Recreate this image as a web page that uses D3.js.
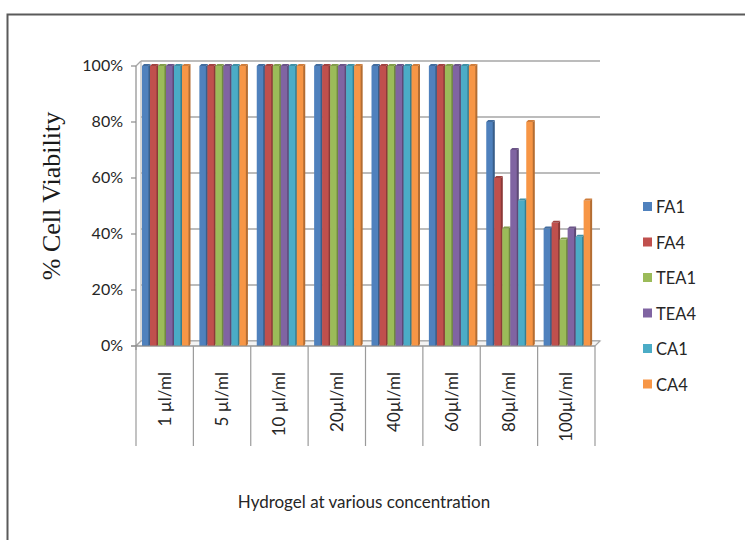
<!DOCTYPE html>
<html lang="en">
<head>
  <meta charset="UTF-8">
  <title>Cell viability</title>
  <style>
    body { margin: 0; background: #ffffff; }
    svg { display: block; background-color: #ffffff; }
    .tick-label { font-family: Lato, "Open Sans", sans-serif; font-size: 16px; fill: #262626; }
    .cat-label { font-family: Lato, "Open Sans", sans-serif; font-size: 17px; fill: #262626; }
    .legend-label { font-family: Lato, "Open Sans", sans-serif; font-size: 16.5px; fill: #262626; }
  </style>
  <script type="text/javascript" src="https://d3js.org/d3.v7.min.js"></script>
</head>
<body>
<script type="text/javascript">

  var categories = ["1 µl/ml", "5 µl/ml", "10 µl/ml", "20µl/ml", "40µl/ml", "60µl/ml", "80µl/ml", "100µl/ml"];
  var seriesNames = ["FA1", "FA4", "TEA1", "TEA4", "CA1", "CA4"];
  var FA1  = [100, 100, 100, 100, 100, 100, 80, 42];
  var FA4  = [100, 100, 100, 100, 100, 100, 60, 44];
  var TEA1 = [100, 100, 100, 100, 100, 100, 42, 38];
  var TEA4 = [100, 100, 100, 100, 100, 100, 70, 42];
  var CA1  = [100, 100, 100, 100, 100, 100, 52, 39];
  var CA4  = [100, 100, 100, 100, 100, 100, 80, 52];
  var yTicks = [0, 20, 40, 60, 80, 100];
  var colors = ["#4f81bd", "#c0504d", "#9bbb59", "#8064a2", "#4bacc6", "#f79646"];

  var seriesValues = [FA1, FA4, TEA1, TEA4, CA1, CA4];

  var width = 745, height = 540;
  var depth = 5;   // fake 3d offset of the back wall

  var svg = d3.select("body")
    .append("svg")
    .attr("width", width)
    .attr("height", height);

  // outer frame (right and bottom edges fall outside the picture)
  svg.append("rect")
    .attr("x", 7.5)
    .attr("y", 14.5)
    .attr("width", 800)
    .attr("height", 600)
    .attr("fill", "none")
    .attr("stroke", "#5a5a5a")
    .attr("stroke-width", 2);

  var x0 = d3.scaleBand()
    .domain(categories)
    .range([136, 595]);

  var x1 = d3.scaleBand()
    .domain(seriesNames)
    .range([6, 54]);

  var y = d3.scaleLinear()
    .domain([0, 100])
    .range([346, 66]);

  var plot = svg.append("g").attr("id", "plot-area");

  // back wall gridlines
  plot.selectAll("line.grid")
    .data(yTicks)
    .enter()
    .append("line")
    .attr("class", "grid")
    .attr("x1", 136 + depth)
    .attr("x2", 595 + depth)
    .attr("y1", function(d) { return y(d) - depth; })
    .attr("y2", function(d) { return y(d) - depth; })
    .attr("stroke", "#a6a6a6")
    .attr("stroke-width", 1.6);

  // left wall edge and the little diagonals to the front axis
  plot.append("line")
    .attr("x1", 136 + depth).attr("x2", 136 + depth)
    .attr("y1", y(0) - depth).attr("y2", y(100) - depth)
    .attr("stroke", "#b0b0b0").attr("stroke-width", 1);

  plot.selectAll("line.diag")
    .data([0, 100])
    .enter()
    .append("line")
    .attr("class", "diag")
    .attr("x1", 136).attr("x2", 136 + depth)
    .attr("y1", function(d) { return y(d); })
    .attr("y2", function(d) { return y(d) - depth; })
    .attr("stroke", "#a6a6a6").attr("stroke-width", 1.2);

  // floor
  plot.append("polygon")
    .attr("points", [[136, y(0)], [595, y(0)], [595 + depth, y(0) - depth], [136 + depth, y(0) - depth]].join(" "))
    .attr("fill", "#f4f4f4")
    .attr("stroke", "#a6a6a6")
    .attr("stroke-width", 1.2);

  // bars
  var bars = [];
  categories.forEach(function(c, i) {
    seriesNames.forEach(function(s, j) {
      bars.push({cat: c, series: s, value: seriesValues[j][i], color: colors[j]});
    });
  });

  var barG = plot.selectAll("g.bar")
    .data(bars)
    .enter()
    .append("g")
    .attr("class", "bar")
    .attr("transform", function(d) { return "translate(" + (x0(d.cat) + x1(d.series)) + ",0)"; });

  var bw = x1.bandwidth();

  barG.append("rect")
    .attr("x", 0)
    .attr("y", function(d) { return y(d.value); })
    .attr("width", bw)
    .attr("height", function(d) { return y(0) - y(d.value); })
    .attr("fill", function(d) { return d.color; });

  // darker side strip
  barG.append("polygon")
    .attr("points", function(d) {
      return [[bw - 1.5, y(d.value)], [bw + 0.5, y(d.value) - 2], [bw + 0.5, y(0) - 2], [bw - 1.5, y(0)]].join(" ");
    })
    .attr("fill", function(d) { return d3.color(d.color).darker(0.9); });

  // top face
  barG.append("polygon")
    .attr("points", function(d) {
      return [[0, y(d.value)], [bw - 1.5, y(d.value)], [bw + 0.5, y(d.value) - 2], [2, y(d.value) - 2]].join(" ");
    })
    .attr("fill", function(d) { return d3.color(d.color).darker(0.5); });

  // front value axis
  plot.append("line")
    .attr("x1", 136).attr("x2", 136)
    .attr("y1", y(0) + 4).attr("y2", y(100))
    .attr("stroke", "#8c8c8c").attr("stroke-width", 1.2);

  plot.selectAll("line.ytick")
    .data(yTicks)
    .enter()
    .append("line")
    .attr("class", "ytick")
    .attr("x1", 131).attr("x2", 136)
    .attr("y1", function(d) { return y(d); })
    .attr("y2", function(d) { return y(d); })
    .attr("stroke", "#8c8c8c").attr("stroke-width", 1.2);

  svg.selectAll("text.tick-label")
    .data(yTicks)
    .enter()
    .append("text")
    .attr("class", "tick-label")
    .attr("x", 123)
    .attr("y", function(d) { return y(d) + 5; })
    .attr("text-anchor", "end")
    .text(function(d) { return d + "%"; });

  // category axis: boxes below the floor
  plot.append("line")
    .attr("x1", 131).attr("x2", 595)
    .attr("y1", y(0)).attr("y2", y(0))
    .attr("stroke", "#8c8c8c").attr("stroke-width", 1.2);

  var bounds = categories.map(function(c) { return x0(c); }).concat([595]);
  plot.selectAll("line.sep")
    .data(bounds)
    .enter()
    .append("line")
    .attr("class", "sep")
    .attr("x1", function(d) { return d; })
    .attr("x2", function(d) { return d; })
    .attr("y1", y(0))
    .attr("y2", 446)
    .attr("stroke", "#9a9a9a").attr("stroke-width", 1.2);

  svg.selectAll("text.cat-label")
    .data(categories)
    .enter()
    .append("text")
    .attr("class", "cat-label")
    .attr("text-anchor", "end")
    .attr("transform", function(d) {
      return "translate(" + (x0(d) + x0.bandwidth() / 2 + 6) + ",372) rotate(-90)";
    })
    .text(function(d) { return d; });

  // axis titles
  svg.append("text")
    .attr("transform", "translate(60,196) rotate(-90)")
    .attr("text-anchor", "middle")
    .style("font-family", "'Liberation Serif', 'DejaVu Serif', serif")
    .style("font-size", "26px")
    .style("fill", "#1a1a1a")
    .text("% Cell Viability");

  svg.append("text")
    .attr("x", 364)
    .attr("y", 508)
    .attr("text-anchor", "middle")
    .style("font-family", "Lato, 'Open Sans', sans-serif")
    .style("font-size", "17px")
    .style("fill", "#262626")
    .text("Hydrogel at various concentration");

  // legend
  var legend = svg.selectAll("g.legend")
    .data(seriesNames)
    .enter()
    .append("g")
    .attr("class", "legend")
    .attr("transform", function(d, i) { return "translate(643," + (207 + i * 35.5) + ")"; });

  legend.append("rect")
    .attr("x", 0).attr("y", -5)
    .attr("width", 9).attr("height", 9)
    .attr("fill", function(d, i) { return colors[i]; });

  legend.append("text")
    .attr("class", "legend-label")
    .attr("x", 13)
    .attr("y", 6)
    .text(function(d) { return d; });

</script>
</body>
</html>
